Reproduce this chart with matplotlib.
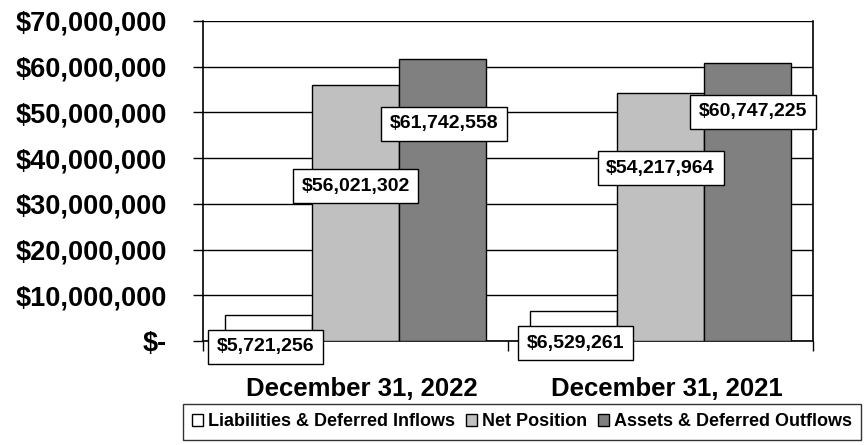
"""
Liabilities, net position and assets at two year ends, as grouped bars.
"""

import numpy as np
import matplotlib.pyplot as plt
from matplotlib.patches import Patch

plt.rcParams['font.family'] = ['Liberation Sans', 'DejaVu Sans']
plt.rcParams['font.weight'] = 'bold'

categories = ["December 31, 2022", "December 31, 2021"]
series_names = ["Liabilities & Deferred Inflows", "Net Position", "Assets & Deferred Outflows"]
liabilities = [5721256, 6529261]
net_position = [56021302, 54217964]
assets = [61742558, 60747225]
y_ticks = [0, 10e6, 20e6, 30e6, 40e6, 50e6, 60e6, 70e6]

colors = ["#FFFFFF", "#C0C0C0", "#808080"]

fig = plt.figure(figsize=(8.68, 4.45), dpi=100)
ax = fig.add_axes([203 / 868, 1 - 341 / 445, 610 / 868, 320 / 445])

x = np.arange(len(categories))
w = 0.285
series = [liabilities, net_position, assets]
for i, (vals, c) in enumerate(zip(series, colors)):
    ax.bar(x + (i - 1) * w, vals, w, color=c, edgecolor="black", linewidth=1.0, zorder=3)

ax.set_xlim(-0.5, 1.5)
ax.set_ylim(0, 70e6)
ax.set_yticks(y_ticks)
ax.set_yticklabels(["$-"] + [f"${v:,.0f}" for v in y_ticks[1:]], fontsize=19.5, fontweight="bold")
ax.yaxis.grid(True, color="black", linewidth=1.0, zorder=0)
ax.set_axisbelow(True)

ax.set_xticks(x + 0.02)
ax.set_xticklabels(categories, fontsize=18.5, fontweight="bold")
ax.tick_params(axis="x", length=0, pad=26)
ax.set_xticks([-0.5, 0.5, 1.5], minor=True)
ax.tick_params(axis="x", which="minor", length=7.2, direction="out", width=1.0)
ax.tick_params(axis="y", length=7.2, direction="out", width=1.0, pad=18.7)

ax.spines["top"].set_visible(False)
for s in ["left", "right", "bottom"]:
    ax.spines[s].set_linewidth(1.2)

# data label boxes (centre positions)
label_pos = [
    [(-0.295, -1.3e6), (0.722, -0.45e6)],
    [(0.0, 33.9e6), (1.0, 37.8e6)],
    [(0.289, 47.5e6), (1.302, 50.1e6)],
]
for vals, pos in zip(series, label_pos):
    for v, (px, py) in zip(vals, pos):
        ax.text(px, py, f"${v:,.0f}", ha="center", va="center", fontsize=14,
                fontweight="bold", zorder=5, clip_on=False,
                bbox=dict(boxstyle="square,pad=0.45", facecolor="white",
                          edgecolor="black", linewidth=1.0))

handles = [Patch(facecolor=c, edgecolor="black", linewidth=1.0) for c in colors]
leg = fig.legend(handles, series_names, loc="center", bbox_to_anchor=(522 / 868, 1 - 422 / 445),
                 ncol=3, frameon=True, fancybox=False, prop={"weight": "bold", "size": 13},
                 handlelength=0.6, handleheight=0.6, handletextpad=0.3, columnspacing=0.6,
                 borderpad=0.5)
leg.get_frame().set_edgecolor("black")
leg.get_frame().set_linewidth(1.0)

plt.savefig("out.png", dpi=100)
